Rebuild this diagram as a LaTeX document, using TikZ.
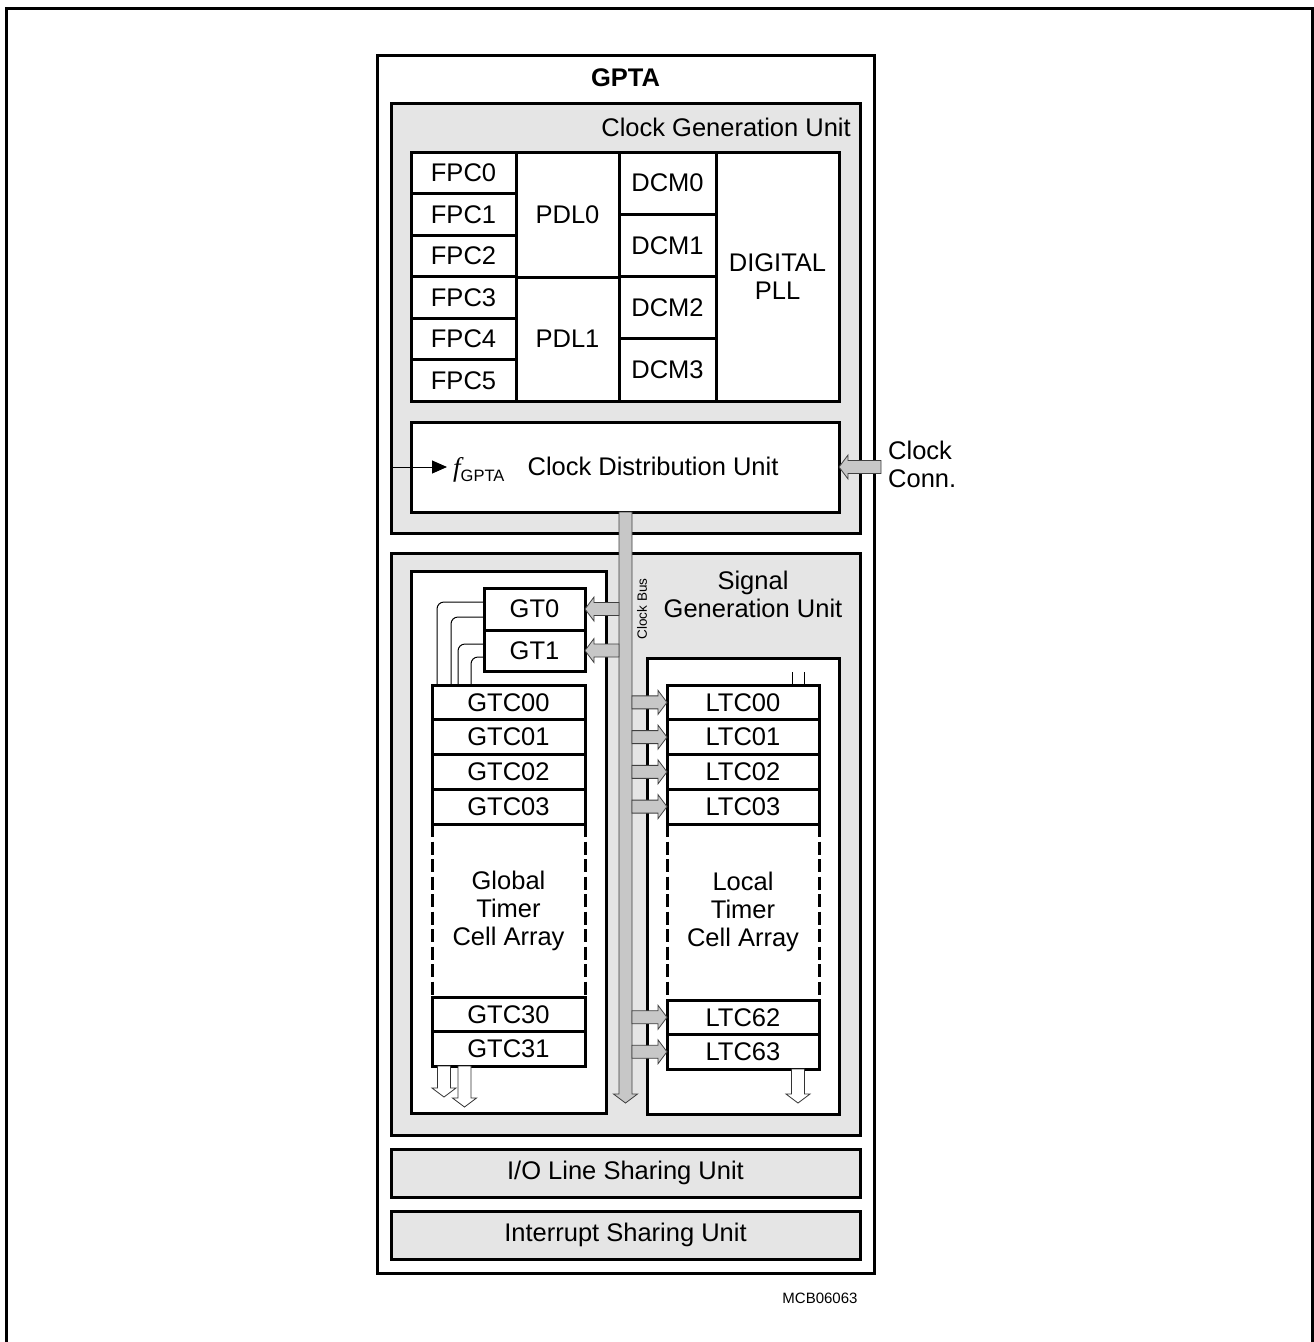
\documentclass[tikz,border=0pt]{standalone}
\usepackage{fontspec}
\setmainfont{Liberation Sans}
\newfontfamily\timesfont{Liberation Serif}
\usetikzlibrary{arrows.meta,calc}

\definecolor{unitgray}{gray}{0.9}
\definecolor{busgray}{gray}{0.78}

\tikzset{
  unit/.style={draw, line width=3pt, fill=unitgray, inner sep=0pt, outer sep=0pt, align=center},
  block/.style={draw, line width=3pt, fill=white, inner sep=0pt, outer sep=0pt, align=center},
  wire/.style={line width=1pt, rounded corners=7pt},
  dashside/.style={line width=3pt, dash pattern=on 13pt off 4.5pt},
  fat/.style={draw=black!75, line width=0.8pt, fill=busgray},
  hollow/.style={draw=black!80, line width=0.8pt, fill=white},
  small/.style={font=\fontsize{15}{17}\selectfont}
}

% wide arrows: horizontal and vertical
\newcommand\hfat[3][fat]{%
  \path[#1] let \p1=(#2), \p2=(#3), \n1={sign(\x2-\x1)*9} in
    (\x1,\y2+6.5pt) -- (\x2-\n1*1pt,\y2+6.5pt) -- (\x2-\n1*1pt,\y2+12pt) -- (\x2,\y2)
    -- (\x2-\n1*1pt,\y2-12pt) -- (\x2-\n1*1pt,\y2-6.5pt) -- (\x1,\y2-6.5pt) -- cycle;}
\newcommand\vfat[3][fat]{%
  \path[#1] let \p1=(#2), \p2=(#3), \n1={sign(\y2-\y1)*9} in
    (\x2-6.5pt,\y1) -- (\x2-6.5pt,\y2-\n1*1pt) -- (\x2-12pt,\y2-\n1*1pt) -- (\x2,\y2)
    -- (\x2+12pt,\y2-\n1*1pt) -- (\x2+6.5pt,\y2-\n1*1pt) -- (\x2+6.5pt,\y1) -- cycle;}

\begin{document}
\begin{tikzpicture}[x=1pt, y=-1pt, font=\fontsize{25.5}{28}\selectfont]
\useasboundingbox (0,0) rectangle (1314,1342);
\draw[line width=3pt] (6,1342) -- (6,8) -- (1312,8) -- (1312,1342);

\node[block, minimum width=497, minimum height=1218] (gpta) at (625.5,664) {};
\node[font=\fontsize{25.5}{28}\selectfont\bfseries] (gptatitle) at (625.5,78) {GPTA};

% clock generation unit
\node[unit, minimum width=469, minimum height=430] (cgu) at (625.5,318) {};
\node[anchor=east, inner sep=0pt] (cgutitle) at (851,127) {Clock Generation Unit};
\foreach \i in {0,...,5}
  \node[block, minimum width=105, minimum height=41.5] (fpc\i) at (463.5,{172.75+41.5*\i}) {FPC\i};
\node[block, minimum width=103, minimum height=125] (pdl0) at (567.5,214.5) {PDL0};
\node[block, minimum width=103, minimum height=124] (pdl1) at (567.5,339) {PDL1};
\foreach \i in {0,...,3}
  \node[block, minimum width=97, minimum height=62.25] (dcm\i) at (667.5,{183.125+62.25*\i}) {DCM\i};
\node[block, minimum width=123, minimum height=249] (pll) at (777.5,276.5) {DIGITAL\\PLL};

\node[block, minimum width=428, minimum height=90] (cdu) at (625,467) {};
\node (cdutext) at (653,466) {Clock Distribution Unit};
\node[anchor=base west, inner xsep=6pt, inner ysep=0pt] (fclk) at (447,476)
  {{\timesfont\itshape\fontsize{27}{28}\selectfont f}\raisebox{-5pt}{\fontsize{16.5}{18}\selectfont GPTA}};
\draw[line width=1pt, -{Triangle[length=15pt, width=13pt]}] (cgu.west |- 0,467) -- (fclk.base west |- 0,467);
\node[anchor=west, align=left, inner sep=0pt] (conn) at (888,464) {Clock\\Conn.};
\coordinate (connin) at (881,467);

% signal generation unit
\node[unit, minimum width=469, minimum height=582] (sgu) at (625.5,844) {};
\node[align=center] (sgutitle) at (753,594) {Signal\\Generation Unit};
\node[block, minimum width=195, minimum height=542] (gtcarea) at (508.5,842) {};
\node[block, minimum width=192, minimum height=456] (ltcarea) at (743,886) {};
\node[block, minimum width=101, minimum height=42] (gt0) at (534.5,609) {GT0};
\node[block, minimum width=101, minimum height=41] (gt1) at (534.5,650.5) {GT1};
\foreach \i in {0,...,3} {
  \node[block, minimum width=153, minimum height=34.75] (gtc0\i) at (508.5,{702.375+34.75*\i}) {GTC0\i};
  \node[block, minimum width=152, minimum height=34.75] (ltc0\i) at (743,{702.375+34.75*\i}) {LTC0\i};
}
\node[block, minimum width=153, minimum height=34.5] (gtc30) at (508.5,1014.25) {GTC30};
\node[block, minimum width=153, minimum height=34.5] (gtc31) at (508.5,1048.75) {GTC31};
\node[block, minimum width=152, minimum height=34.5] (ltc62) at (743,1017.25) {LTC62};
\node[block, minimum width=152, minimum height=34.5] (ltc63) at (743,1051.75) {LTC63};
\draw[dashside] (gtc03.south west) -- (gtc30.north west) (gtc03.south east) -- (gtc30.north east);
\draw[dashside] (ltc03.south west) -- (ltc62.north west) (ltc03.south east) -- (ltc62.north east);
\node[align=center] (gtctext) at ($(gtc03.south)!0.5!(gtc30.north)$) {Global\\Timer\\Cell Array};
\node[align=center] (ltctext) at ($(ltc03.south)!0.5!(ltc62.north)$) {Local\\Timer\\Cell Array};

% clock bus
\coordinate (busw) at (619,0);
\coordinate (buse) at (632,0);
\coordinate (busend) at (625.5,1103);
\vfat{cdu.south -| busend}{busend}
\node[rotate=90, font=\fontsize{13.5}{15}\selectfont] (buslabel) at (642,609) {Clock Bus};
\hfat{busw |- gt0.east}{gt0.east}
\hfat{busw |- gt1.east}{gt1.east}
\foreach \cel in {ltc00,ltc01,ltc02,ltc03,ltc62,ltc63} {\hfat{buse |- \cel.west}{\cel.west}}
\hfat{connin}{cdu.east |- connin}

% timer feedback lines
\draw[wire] (gt0.west |- 0,602) -| (gtc00.north -| 437,0);
\draw[wire] (gt0.west |- 0,617) -| (gtc00.north -| 451,0);
\draw[wire] (gt1.west |- 0,644) -| (gtc00.north -| 458,0);
\draw[wire] (gt1.west |- 0,657) -| (gtc00.north -| 471,0);
\coordinate (gout1) at (444,1097);
\coordinate (gout2) at (464.5,1107);
\coordinate (lout) at (798,1103);
\vfat[hollow]{gtc31.south -| gout1}{gout1}
\vfat[hollow]{gtc31.south -| gout2}{gout2}
\vfat[hollow]{ltc63.south -| lout}{lout}
\coordinate (lin1) at (792,672);
\coordinate (lin2) at (804,672);
\draw[wire] (lin1) -- (ltc00.north -| lin1);
\draw[wire] (lin2) -- (ltc00.north -| lin2);

% sharing units
\node[unit, minimum width=469, minimum height=48] (io) at (625.5,1173) {I/O Line Sharing Unit};
\node[unit, minimum width=469, minimum height=48] (irq) at (625.5,1235) {Interrupt Sharing Unit};
\node[small] (docid) at (820,1298) {MCB06063};
\end{tikzpicture}
\end{document}
